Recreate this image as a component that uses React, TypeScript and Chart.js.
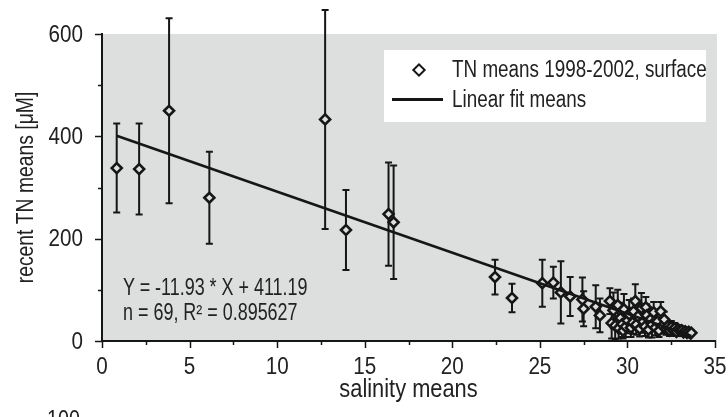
import React, { useEffect, useRef } from "react";
import { Chart, registerables } from "chart.js";

Chart.register(...registerables);

// ---- data ----
const salinity = [
  0.84, 2.12, 3.83, 6.13, 12.74, 13.93, 16.36, 16.65, 22.44, 23.41,
  25.14, 25.77, 26.2, 26.73, 27.43, 27.5, 28.19, 28.43,
  29.0, 29.1, 29.2, 29.3, 29.45, 29.5, 29.6, 29.7, 29.75, 29.8, 29.9,
  30.0, 30.1, 30.2, 30.3, 30.35, 30.45, 30.5, 30.6, 30.7, 30.8, 30.9,
  31.0, 31.05, 31.1, 31.2, 31.3, 31.4, 31.5, 31.6, 31.7, 31.8, 31.9,
  32.0, 32.1, 32.2, 32.3, 32.4, 32.5, 32.6, 32.7, 32.8, 32.9,
  33.0, 33.1, 33.2, 33.3, 33.4, 33.5, 33.6, 33.65,
];
const tnMean = [
  338, 336, 450, 280, 433, 217, 248, 232, 125, 84,
  113, 114, 95, 87, 81, 63, 67, 50,
  78, 35, 60, 30, 70, 25, 45, 33, 20, 62, 28,
  40, 52, 26, 36, 58, 78, 32, 48, 24, 64, 38,
  28, 66, 50, 22, 42, 32, 56, 26, 38, 20, 58,
  30, 42, 24, 28, 20, 27, 21, 25, 18, 23,
  20, 21, 17, 19, 16, 18, 15, 16,
];
const tnErr = [
  87, 89, 181, 90, 214, 78, 101, 111, 34, 28,
  46, 31, 61, 38, 43, 34, 42, 33,
  25, 30, 35, 28, 30, 20, 30, 25, 15, 30, 20,
  25, 28, 18, 22, 25, 33, 20, 25, 15, 30, 22,
  18, 20, 22, 15, 20, 25, 20, 15, 18, 12, 18,
  15, 15, 12, 10, 10, 12, 10, 10, 8, 8,
  10, 7, 6, 6, 5, 5, 4, 4,
];
const fitX = [0.84, 33.65];
const fitY = [401.2, 9.8];
const xTickValues = [0, 2.5, 5, 7.5, 10, 12.5, 15, 17.5, 20, 22.5, 25, 27.5, 30, 32.5, 35];
const xTickLabels = ["0", "", "5", "", "10", "", "15", "", "20", "", "25", "", "30", "", "35"];
const yTickValues = [0, 100, 200, 300, 400, 500, 600];
const yTickLabels = ["0", "", "200", "", "400", "", "600"];
const xTitle = "salinity means";
const yTitle = "recent TN means [\u03bcM]";

const FONT = "'Liberation Sans', Arial, sans-serif";
const GRAY = "#dddede";
const INK = "#161616";
const TEXT = "#222";

const bgPlugin = {
  id: "bgFill",
  beforeDraw(chart: any) {
    const { ctx, chartArea } = chart;
    ctx.save();
    ctx.fillStyle = GRAY;
    ctx.fillRect(chartArea.left, chartArea.top, chartArea.right - chartArea.left + 2, chartArea.bottom - chartArea.top);
    ctx.restore();
  },
};

const errorBarPlugin = {
  id: "errorBars",
  beforeDatasetsDraw(chart: any) {
    const { ctx } = chart;
    const x = chart.scales.x;
    const y = chart.scales.y;
    ctx.save();
    ctx.strokeStyle = INK;
    ctx.lineWidth = 2;
    salinity.forEach((s, i) => {
      const px = x.getPixelForValue(s);
      const top = y.getPixelForValue(tnMean[i] + tnErr[i]);
      const bot = y.getPixelForValue(Math.max(0, tnMean[i] - tnErr[i]));
      ctx.beginPath();
      ctx.moveTo(px, top);
      ctx.lineTo(px, bot);
      ctx.moveTo(px - 3.5, top);
      ctx.lineTo(px + 3.5, top);
      ctx.moveTo(px - 3.5, bot);
      ctx.lineTo(px + 3.5, bot);
      ctx.stroke();
    });
    ctx.restore();
  },
};

function narrowText(ctx: any, text: string, x: number, y: number, align: string, sx: number, rot = 0) {
  ctx.save();
  ctx.translate(x, y);
  if (rot) ctx.rotate(rot);
  ctx.scale(sx, 1);
  ctx.textAlign = align;
  ctx.textBaseline = "middle";
  ctx.fillText(text, 0, 0);
  ctx.restore();
}

const axisPlugin = {
  id: "axisTicksText",
  afterDraw(chart: any) {
    const { ctx, chartArea } = chart;
    const x = chart.scales.x;
    const y = chart.scales.y;
    ctx.save();
    ctx.strokeStyle = INK;
    ctx.lineWidth = 1.5;
    ctx.beginPath();
    yTickValues.forEach((v, i) => {
      const py = Math.round(y.getPixelForValue(v)) + 0.5;
      const len = yTickLabels[i] ? 7 : 4;
      ctx.moveTo(chartArea.left - len, py);
      ctx.lineTo(chartArea.left, py);
    });
    xTickValues.forEach((v, i) => {
      const px = Math.round(x.getPixelForValue(v)) + 0.5;
      const len = xTickLabels[i] ? 7 : 4;
      ctx.moveTo(px, chartArea.bottom);
      ctx.lineTo(px, chartArea.bottom + len);
    });
    ctx.stroke();

    ctx.fillStyle = TEXT;
    ctx.font = `24px ${FONT}`;
    yTickValues.forEach((v, i) => {
      if (!yTickLabels[i]) return;
      narrowText(ctx, yTickLabels[i], chartArea.left - 19, y.getPixelForValue(v) + 1, "right", 0.86);
    });
    xTickValues.forEach((v, i) => {
      if (!xTickLabels[i]) return;
      narrowText(ctx, xTickLabels[i], x.getPixelForValue(v), chartArea.bottom + 26, "center", 0.86);
    });
    ctx.font = `26px ${FONT}`;
    narrowText(ctx, xTitle, (chartArea.left + chartArea.right) / 2, chartArea.bottom + 49, "center", 0.84);
    ctx.font = `23px ${FONT}`;
    narrowText(ctx, yTitle, 27, (chartArea.top + chartArea.bottom) / 2, "center", 0.84, -Math.PI / 2);
    ctx.restore();
  },
};

function ScatterChart() {
  const ref = useRef<HTMLCanvasElement | null>(null);
  useEffect(() => {
    if (!ref.current) return;
    const chart = new Chart(ref.current, {
      type: "scatter",
      data: {
        datasets: [
          {
            type: "line",
            label: "Linear fit means",
            data: fitX.map((v, i) => ({ x: v, y: fitY[i] })),
            borderColor: INK,
            borderWidth: 2.6,
            pointRadius: 0,
            fill: false,
          } as any,
          {
            label: "TN means 1998-2002, surface",
            data: salinity.map((v, i) => ({ x: v, y: tnMean[i] })),
            pointStyle: "rectRot",
            pointRadius: 5,
            borderWidth: 2.6,
            borderColor: INK,
            backgroundColor: GRAY,
          },
        ],
      },
      options: {
        responsive: false,
        animation: false,
        layout: { padding: { top: 34, right: 13, left: 0, bottom: 0 } },
        plugins: { legend: { display: false }, tooltip: { enabled: false } },
        scales: {
          x: {
            type: "linear",
            min: 0,
            max: 35,
            afterFit: (s: any) => { s.height = 76; },
            afterBuildTicks: (s: any) => { s.ticks = xTickValues.map((v) => ({ value: v })); },
            grid: { display: false },
            border: { display: true, color: INK, width: 2 },
            ticks: { display: false },
          },
          y: {
            type: "linear",
            min: 0,
            max: 600,
            afterFit: (s: any) => { s.width = 102; },
            afterBuildTicks: (s: any) => { s.ticks = yTickValues.map((v) => ({ value: v })); },
            grid: { display: false },
            border: { display: true, color: INK, width: 2 },
            ticks: { display: false },
          },
        },
      },
      plugins: [bgPlugin, errorBarPlugin, axisPlugin],
    });
    return () => chart.destroy();
  }, []);
  return <canvas ref={ref} width={728} height={417} style={{ display: "block" }} />;
}

export default function App() {
  const txt: React.CSSProperties = {
    position: "absolute",
    fontFamily: FONT,
    color: TEXT,
    whiteSpace: "nowrap",
    lineHeight: 1,
    fontSize: 23,
    transform: "scaleX(0.82)",
    transformOrigin: "0 0",
  };
  const ann: React.CSSProperties = { ...txt, transform: "scaleX(0.78)" };
  return (
    <div style={{ position: "absolute", left: 0, top: 0, width: 728, height: 417, overflow: "hidden", background: "#fff" }}>
      <ScatterChart />
      <div style={{ position: "absolute", left: 384, top: 50, width: 322, height: 72, background: "#fff" }}>
        <div
          style={{
            position: "absolute",
            left: 30,
            top: 15,
            width: 6,
            height: 6,
            border: `2px solid ${INK}`,
            transform: "rotate(45deg)",
            background: "#fff",
          }}
        />
        <div style={{ position: "absolute", left: 8, top: 48, width: 51, height: 2.5, background: INK }} />
        <div style={{ ...txt, left: 68, top: 8 }}>TN means 1998-2002, surface</div>
        <div style={{ ...txt, left: 68, top: 38 }}>Linear fit means</div>
      </div>
      <div style={{ ...ann, left: 123, top: 276 }}>Y = -11.93 * X + 411.19</div>
      <div style={{ ...ann, left: 123, top: 301 }}>n = 69, R² = 0.895627</div>
      <div style={{ ...txt, left: 47, top: 407, fontSize: 24 }}>100</div>
    </div>
  );
}
